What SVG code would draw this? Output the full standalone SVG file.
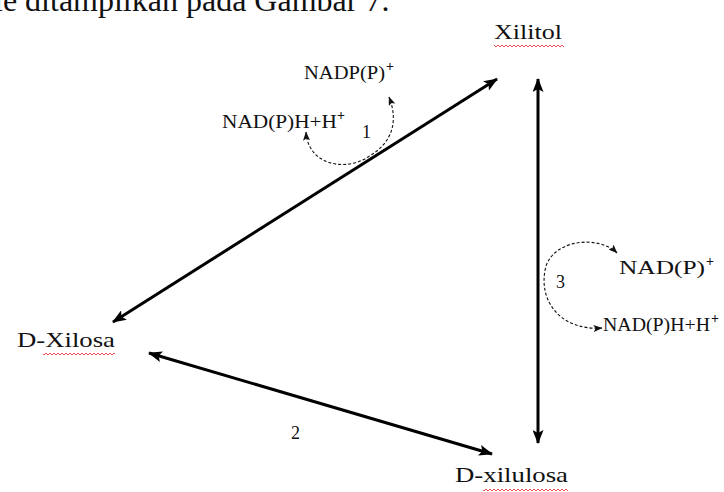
<svg xmlns="http://www.w3.org/2000/svg" width="724" height="492" viewBox="0 0 724 492">
  <style>
    .lbl { font-family: "Liberation Serif", "Times New Roman", serif; fill: #111; }
    .big { font-size: 21px; }
    .sm { font-size: 19px; }
    .num { font-size: 18px; }
    .sup { font-size: 14px; font-weight: bold; }
    .main { stroke: #000; stroke-width: 3; fill: none; marker-start: url(#ah); marker-end: url(#ah); }
    .dash { stroke: #111; stroke-width: 1.1; fill: none; stroke-dasharray: 3 2; marker-start: url(#sh); marker-end: url(#sh); }
    .wave { fill: url(#sq); }
  </style>
  <defs>
    <marker id="ah" viewBox="0 0 14 11" refX="13" refY="5.5" markerWidth="14" markerHeight="11" orient="auto-start-reverse" markerUnits="userSpaceOnUse">
      <path d="M0,0 L14,5.5 L0,11 L3,5.5 z" fill="#000"/>
    </marker>
    <marker id="sh" viewBox="0 0 9 7" refX="8.5" refY="3.5" markerWidth="9" markerHeight="7" orient="auto-start-reverse" markerUnits="userSpaceOnUse">
      <path d="M0,0 L9,3.5 L0,7 L2,3.5 z" fill="#111"/>
    </marker>
    <pattern id="sq" width="4" height="4" patternUnits="userSpaceOnUse">
      <path d="M0,3 L2,1 L4,3" stroke="#e8383d" stroke-width="0.9" fill="none"/>
    </pattern>
  </defs>
  <rect width="724" height="492" fill="#fff"/>

  <text class="lbl" x="-6" y="11" font-size="32">le ditampilkan pada Gambar 7.</text>

  <g id="connectors">
    <path class="main" d="M113,322 L497,79"/>
    <path class="main" d="M538,79 L538,443"/>
    <path class="main" d="M149,353 L492,454"/>
    <path class="dash" d="M306,132 C308,165 345,172 368,157 C394,142 398,120 389,97"/>
    <path class="dash" d="M617,253 C600,236 556,238 546,266 C537,300 560,331 602,328"/>
  </g>

  <g id="xilitol">
    <text class="lbl big" x="494" y="39" textLength="68" lengthAdjust="spacingAndGlyphs">Xilitol</text>
    <rect class="wave" x="494" y="44" width="70" height="4"/>
  </g>
  <g id="d-xilosa">
    <text class="lbl big" x="17" y="347" textLength="98" lengthAdjust="spacingAndGlyphs">D-Xilosa</text>
    <rect class="wave" x="43" y="352" width="72" height="4"/>
  </g>
  <g id="d-xilulosa">
    <text class="lbl big" x="455" y="482" textLength="113" lengthAdjust="spacingAndGlyphs">D-xilulosa</text>
    <rect class="wave" x="483" y="488" width="85" height="4"/>
  </g>

  <g id="reaction-1">
    <text class="lbl sm" x="304" y="79"><tspan textLength="81" lengthAdjust="spacingAndGlyphs">NADP(P)</tspan><tspan class="sup" dx="1" dy="-8">+</tspan></text>
    <text class="lbl sm" x="222" y="128"><tspan textLength="115" lengthAdjust="spacingAndGlyphs">NAD(P)H+H</tspan><tspan class="sup" dx="0" dy="-8">+</tspan></text>
    <text class="lbl num" x="362" y="138">1</text>
  </g>
  <g id="reaction-2">
    <text class="lbl num" x="291" y="439">2</text>
  </g>
  <g id="reaction-3">
    <text class="lbl sm" x="619" y="274"><tspan textLength="86" lengthAdjust="spacingAndGlyphs">NAD(P)</tspan><tspan class="sup" dx="1" dy="-8">+</tspan></text>
    <text class="lbl sm" x="603" y="331"><tspan textLength="107" lengthAdjust="spacingAndGlyphs">NAD(P)H+H</tspan><tspan class="sup" dx="1" dy="-8">+</tspan></text>
    <text class="lbl num" x="556" y="288">3</text>
  </g>
</svg>
